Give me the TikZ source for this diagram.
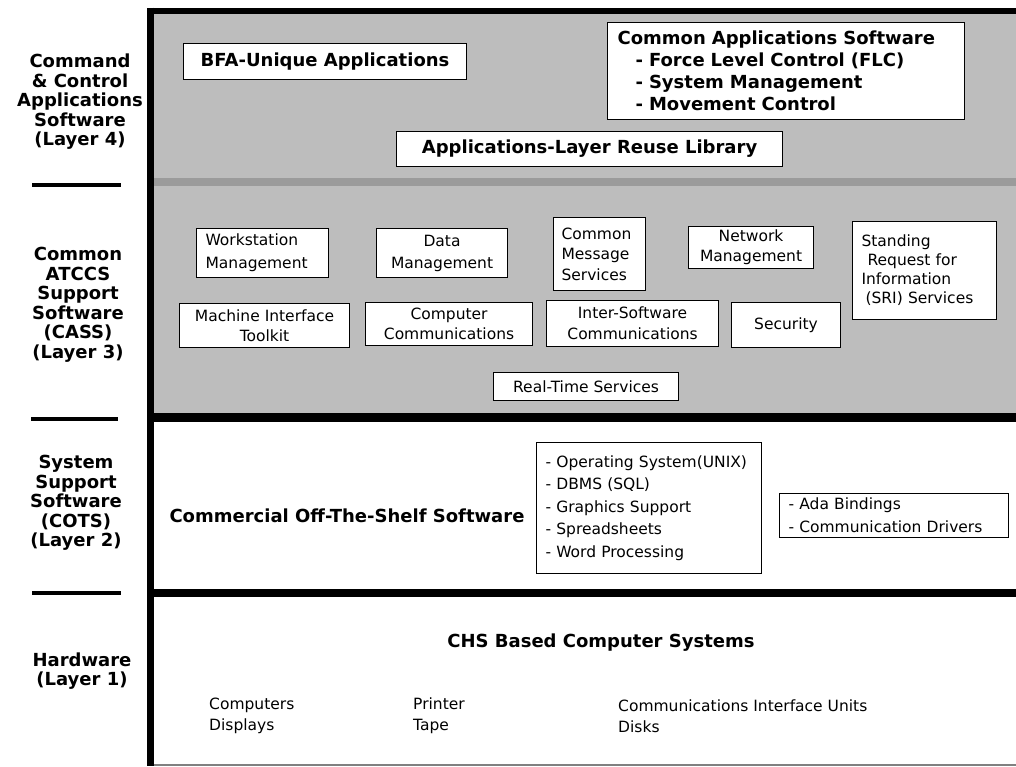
\documentclass[tikz,border=0pt]{standalone}
\usepackage{fontspec}
\setmainfont{DejaVu Sans}
\definecolor{panelgray}{RGB}{189,189,189}
\definecolor{sepgray}{RGB}{155,155,155}
\newcommand\boxfont{\fontsize{15.5}{21}\selectfont}
\newcommand\headfont{\fontsize{18}{22}\selectfont\bfseries}
\newcommand\sidefont{\fontsize{18}{19.5}\selectfont\bfseries}
\begin{document}
\begin{tikzpicture}[x=1pt,y=-1pt,
  box/.style={draw, fill=white, line width=1.1pt, inner sep=0pt, anchor=north west, font=\boxfont, align=center},
  hbox/.style={box, font=\headfont},
  lbox/.style={box, align=left},
  side/.style={font=\sidefont, align=center, inner sep=0pt},
  head/.style={font=\headfont, inner sep=0pt},
  plain/.style={font=\boxfont, align=left, inner sep=0pt, anchor=west},
  tick/.style={line width=3.5pt}]
\useasboundingbox (0,0) rectangle (1016,766);
% panels and frame
\fill[panelgray] (154,13) rectangle (1016,413);
\draw[line width=8pt, sepgray] (154,182) -- (1016,182);
\draw[line width=6pt] (147,10.5) -- (1016,10.5);
\draw[line width=7pt] (150.5,7.5) -- (150.5,766);
\draw[line width=9pt] (147,417.5) -- (1016,417.5);
\draw[line width=8pt] (147,592.5) -- (1016,592.5);
\draw[line width=1.5pt, gray] (154,765) -- (1016,765);
% side labels
\node[side] (l4) at (80,102) {Command\\\& Control\\Applications\\Software\\(Layer 4)};
\node[side] (l3) at (78,305) {Common\\ATCCS\\Support\\Software\\(CASS)\\(Layer 3)};
\node[side] (l2) at (76,503) {System\\Support\\Software\\(COTS)\\(Layer 2)};
\node[side] (l1) at (82,671) {Hardware\\(Layer 1)};
\draw[tick] (32,185) -- (121,185);
\draw[tick] (31,419) -- (118,419);
\draw[tick] (32,593) -- (121,593);
% layer 4
\node[hbox, minimum width=283, minimum height=36] (bfa) at (183,43) {BFA-Unique Applications};
\node[lbox, font=\headfont, text width=337, inner xsep=10, minimum height=97] (cas) at (607,22) {Common Applications Software\\\hspace*{18pt}- Force Level Control (FLC)\\\hspace*{18pt}- System Management\\\hspace*{18pt}- Movement Control};
\node[hbox, minimum width=386, minimum height=35] (arl) at (396,131) {Applications-Layer Reuse Library};
% layer 3
\node[lbox, text width=114, inner xsep=9, minimum height=49, font=\fontsize{15.5}{23}\selectfont] (ws) at (196,228) {Workstation\\Management};
\node[box, minimum width=131, minimum height=49, font=\fontsize{15.5}{22}\selectfont] (dm) at (376,228) {Data\\Management};
\node[lbox, text width=76, inner xsep=8, minimum height=73, font=\fontsize{15.5}{20.5}\selectfont] (cms) at (553,217) {Common\\Message\\Services};
\node[box, minimum width=125, minimum height=42, font=\fontsize{15.5}{20}\selectfont] (nm) at (688,226) {Network\\Management};
\node[lbox, text width=126, inner xsep=9, minimum height=98, font=\fontsize{15.5}{19}\selectfont] (sri) at (852,221) {Standing\\\hspace*{6pt}Request for\\Information\\\hspace*{4pt}(SRI) Services};
\node[box, minimum width=170, minimum height=44, font=\fontsize{15.5}{19.5}\selectfont] (mit) at (179,303) {Machine Interface\\Toolkit};
\node[box, minimum width=167, minimum height=43, font=\fontsize{15.5}{20.5}\selectfont] (cc) at (365,302) {Computer\\Communications};
\node[box, minimum width=172, minimum height=46, font=\fontsize{15.5}{21}\selectfont] (isc) at (546,300) {Inter-Software\\Communications};
\node[box, minimum width=109, minimum height=45] (sec) at (731,302) {Security};
\node[box, minimum width=185, minimum height=28] (rts) at (493,372) {Real-Time Services};
% layer 2
\node[head] (cots) at (347,516) {Commercial Off-The-Shelf Software};
\node[lbox, text width=207, inner xsep=9, minimum height=131, font=\fontsize{15.5}{22.5}\selectfont] (os) at (536,442) {- Operating System(UNIX)\\- DBMS (SQL)\\- Graphics Support\\- Spreadsheets\\- Word Processing};
\node[lbox, text width=211, inner xsep=9, minimum height=44, font=\fontsize{15.5}{23}\selectfont] (ada) at (779,493) {- Ada Bindings\\- Communication Drivers};
% layer 1
\node[head] (chs) at (601,643) {CHS Based Computer Systems};
\node[plain] (hw1) at (209,716) {Computers\\Displays};
\node[plain] (hw2) at (413,716) {Printer\\Tape};
\node[plain] (hw3) at (618,716) {Communications Interface Units\\Disks};
\end{tikzpicture}
\end{document}
